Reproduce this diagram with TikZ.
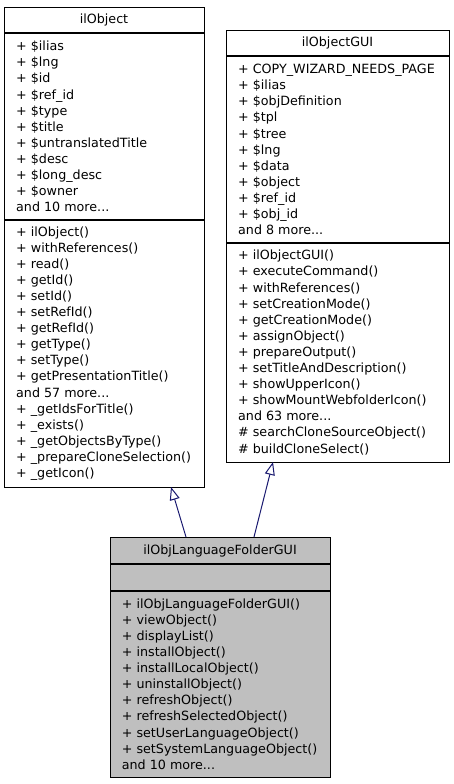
\documentclass[tikz,border=0pt]{standalone}
\usepackage{fontspec}
\setmainfont{DejaVu Sans}
\usetikzlibrary{arrows.meta}
\definecolor{edgeblue}{HTML}{191970}
\definecolor{grey75}{HTML}{BFBFBF}
\tikzset{
  umlbox/.style={draw=black, line width=1pt, anchor=north west, inner sep=0pt},
  sep/.style={draw=black, line width=1.8pt},
  txt/.style={anchor=west, align=left, inner sep=0pt, font=\fontsize{12.7}{16.1}\selectfont},
  ttl/.style={anchor=center, inner sep=0pt, font=\fontsize{12.7}{16.1}\selectfont},
  inherit/.style={draw=edgeblue, line width=1pt, -{Triangle[open, length=13pt, width=10pt]}}
}
\begin{document}
\begin{tikzpicture}[x=1pt,y=-1pt]
\useasboundingbox (0,0) rectangle (453,784);
\fill[white] (0,0) rectangle (453,784);
% ilObject
\node[umlbox, minimum width=200pt, minimum height=480pt] (obj) at (4,7) {};
\draw[sep] (4,33) -- (204,33);
\draw[sep] (4,220) -- (204,220);
\node[ttl] (objt) at (104,20) {ilObject};
\node[txt] (obja) at (16,126.5) {+ \$ilias\\+ \$lng\\+ \$id\\+ \$ref\_id\\+ \$type\\+ \$title\\+ \$untranslatedTitle\\+ \$desc\\+ \$long\_desc\\+ \$owner\\and 10 more...};
\node[txt] (objm) at (16,353.5) {+ ilObject()\\+ withReferences()\\+ read()\\+ getId()\\+ setId()\\+ setRefId()\\+ getRefId()\\+ getType()\\+ setType()\\+ getPresentationTitle()\\and 57 more...\\+ \_getIdsForTitle()\\+ \_exists()\\+ \_getObjectsByType()\\+ \_prepareCloneSelection()\\+ \_getIcon()};
% ilObjectGUI
\node[umlbox, minimum width=223pt, minimum height=432pt] (gui) at (226,30) {};
\draw[sep] (226,56) -- (449,56);
\draw[sep] (226,243) -- (449,243);
\node[ttl] (guit) at (337.5,43) {ilObjectGUI};
\node[txt] (guia) at (238,149.5) {+ COPY\_WIZARD\_NEEDS\_PAGE\\+ \$ilias\\+ \$objDefinition\\+ \$tpl\\+ \$tree\\+ \$lng\\+ \$data\\+ \$object\\+ \$ref\_id\\+ \$obj\_id\\and 8 more...};
\node[txt] (guim) at (238,352.5) {+ ilObjectGUI()\\+ executeCommand()\\+ withReferences()\\+ setCreationMode()\\+ getCreationMode()\\+ assignObject()\\+ prepareOutput()\\+ setTitleAndDescription()\\+ showUpperIcon()\\+ showMountWebfolderIcon()\\and 63 more...\\\# searchCloneSourceObject()\\\# buildCloneSelect()};
% ilObjLanguageFolderGUI
\node[umlbox, fill=grey75, minimum width=220pt, minimum height=240pt] (lang) at (110,537) {};
\draw[sep] (110,564) -- (330,564);
\draw[sep] (110,591) -- (330,591);
\node[ttl] (langt) at (220,550.5) {ilObjLanguageFolderGUI};
\node[txt] (langm) at (121.7,684) {+ ilObjLanguageFolderGUI()\\+ viewObject()\\+ displayList()\\+ installObject()\\+ installLocalObject()\\+ uninstallObject()\\+ refreshObject()\\+ refreshSelectedObject()\\+ setUserLanguageObject()\\+ setSystemLanguageObject()\\and 10 more...};
% connectors
\coordinate (s1) at (186,537);
\coordinate (t1) at (171,487);
\coordinate (s2) at (254,537);
\coordinate (t2) at (273,462);
\draw[inherit] (s1) -- (t1);
\draw[inherit] (s2) -- (t2);
\end{tikzpicture}
\end{document}
